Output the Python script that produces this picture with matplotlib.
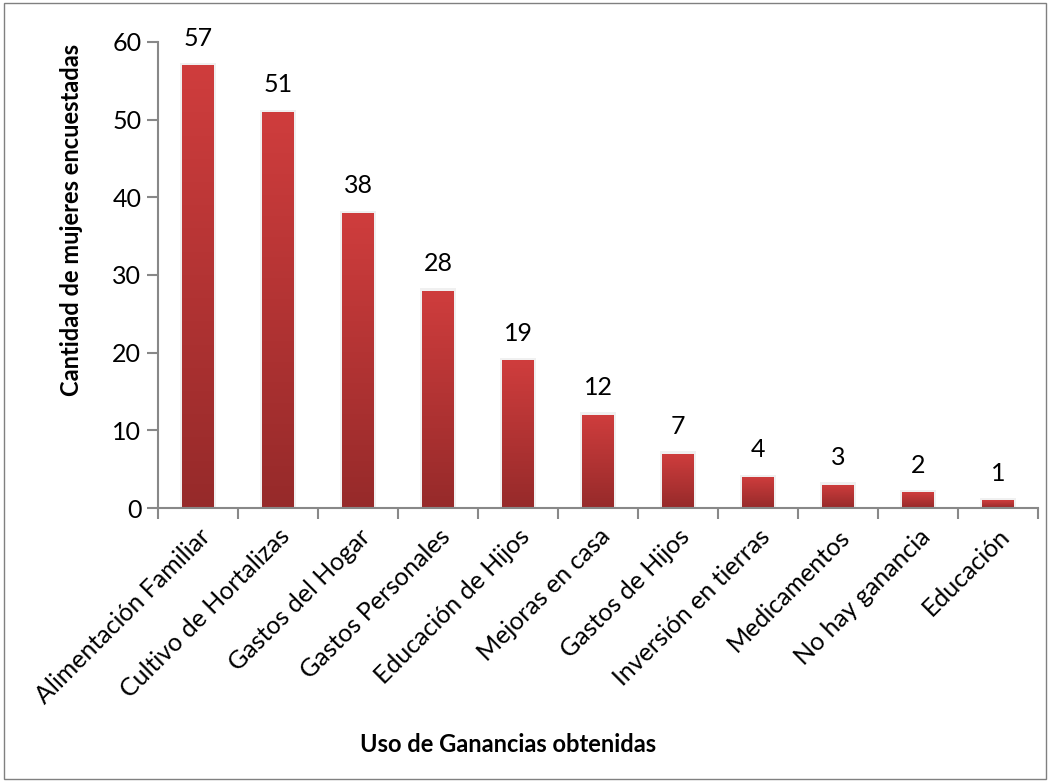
import numpy as np
import matplotlib
matplotlib.use("Agg")
import matplotlib.pyplot as plt
from matplotlib.colors import LinearSegmentedColormap
from matplotlib.patches import Rectangle

categories = ["Alimentación Familiar", "Cultivo de Hortalizas", "Gastos del Hogar",
              "Gastos Personales", "Educación de Hijos", "Mejoras en casa",
              "Gastos de Hijos", "Inversión en tierras", "Medicamentos",
              "No hay ganancia", "Educación"]
values = [57, 51, 38, 28, 19, 12, 7, 4, 3, 2, 1]
yticks = [0, 10, 20, 30, 40, 50, 60]

plt.rcParams['font.family'] = ['Lato', 'DejaVu Sans']

fig = plt.figure(figsize=(10.5, 7.82), dpi=100)
ax = fig.add_axes([158/1050, 1 - 508/782, (1038-158)/1050, (508-42)/782])

n = len(categories)
x = np.arange(n)
width = 0.4
cmap = LinearSegmentedColormap.from_list("bar", ["#962a2a", "#cf3d3d"])
grad = np.linspace(0, 1, 256).reshape(-1, 1)

for xi, v in zip(x, values):
    sh = Rectangle((xi - width/2 - 0.03, 0), width + 0.06, v + 0.3,
                   facecolor="#f0f0f0", edgecolor="none", zorder=1)
    ax.add_patch(sh)
    r = Rectangle((xi - width/2, 0), width, v, facecolor="none", edgecolor="none", zorder=2)
    ax.add_patch(r)
    im = ax.imshow(grad, extent=(xi - width/2, xi + width/2, 0, v), origin="lower",
                   cmap=cmap, aspect="auto", zorder=2)
    im.set_clip_path(r)
    ax.text(xi, v + 2.0, str(v), ha="center", va="bottom", fontsize=18, color="black",
            clip_on=False)

ax.set_xlim(-0.5, n - 0.5)
ax.set_ylim(0, 60)
ax.set_yticks(yticks)
ax.set_yticklabels([str(t) for t in yticks], fontsize=18)
ax.set_xticks(x)
ax.set_xticklabels(categories, rotation=45, ha="right", rotation_mode="anchor", fontsize=18)
ax.set_xticks(np.arange(-0.5, n, 1.0), minor=True)
ax.tick_params(axis="x", which="major", length=0, pad=12)
ax.tick_params(axis="x", which="minor", length=8, color="#888888", width=1.5, direction="out")
ax.tick_params(axis="y", length=8, color="#888888", width=1.5, direction="out", pad=4)
for s in ["top", "right"]:
    ax.spines[s].set_visible(False)
for s in ["left", "bottom"]:
    ax.spines[s].set_color("#888888")
    ax.spines[s].set_linewidth(1.5)

fig.text(72/1050, 1 - 220/782, "Cantidad de mujeres encuestadas", rotation=90,
         ha="center", va="center", fontsize=17, fontweight="bold")
fig.text(508/1050, 1 - 745/782, "Uso de Ganancias obtenidas", ha="center", va="center",
         fontsize=17, fontweight="bold")

border = Rectangle((0.004, 0.004), 0.992, 0.992, transform=fig.transFigure,
                   facecolor="none", edgecolor="#808080", linewidth=1)
fig.patches.append(border)

fig.savefig("out.png", dpi=100)
